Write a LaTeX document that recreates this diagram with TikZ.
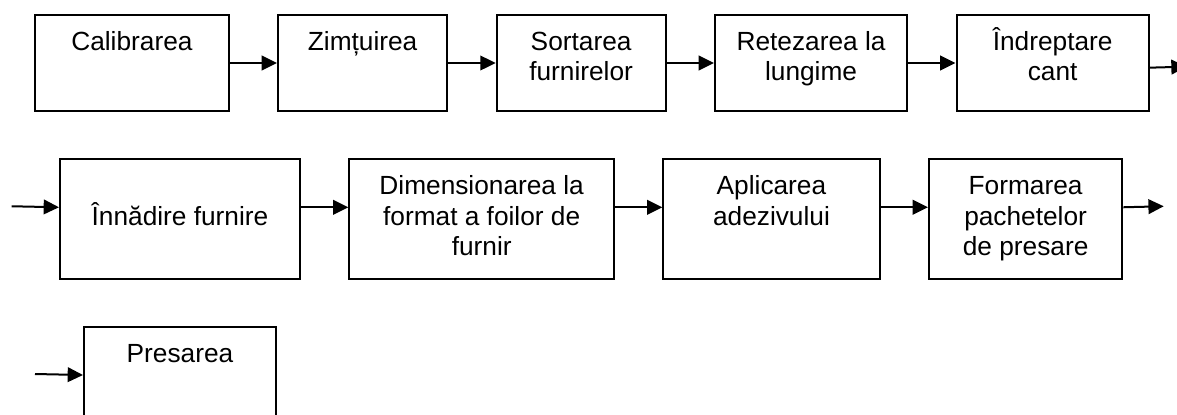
\documentclass[tikz,border=0pt]{standalone}
\usepackage{fontspec}
\setmainfont{Liberation Sans}
\usetikzlibrary{positioning,arrows.meta}
\newcommand{\firststrut}{\rule{0pt}{20pt}}

\begin{document}
\begin{tikzpicture}[
	node distance=35.5pt,
	box/.style={draw, line width=1.5pt, inner sep=0pt, minimum height=72pt},
	tallbox/.style={box, minimum height=90pt},
	boxtext/.style={anchor=north, yshift=-7pt, inner sep=0pt, align=center, font=\fontsize{19.7pt}{22.9pt}\selectfont},
	flow/.style={line width=1.5pt, -{Triangle[length=11.5pt,width=11pt]}},
	]
		\useasboundingbox (0,0) rectangle (882.75pt,-310.5pt);

		\node [box, minimum width=145pt, anchor=north west, label={[boxtext]north:{\firststrut Calibrarea}}] (b1) at (25.7pt,-10.5pt) {};
		\node [box, minimum width=127pt, right=of b1, label={[boxtext]north:{\firststrut Zimțuirea}}] (b2) {};
		\node [box, minimum width=126.75pt, right=of b2, label={[boxtext]north:{\firststrut Sortarea\\furnirelor}}] (b3) {};
		\node [box, minimum width=144.2pt, right=of b3, label={[boxtext]north:{\firststrut Retezarea la\\lungime}}] (b4) {};
		\node [box, minimum width=144.2pt, right=of b4, label={[boxtext]north:{\firststrut Îndreptare\\cant}}] (b5) {};
		\coordinate (out1) at (890pt,-50pt);

		\node [tallbox, minimum width=180pt, anchor=north west, label={[boxtext]north:{\firststrut\\Înnădire furnire}}] (b6) at (44.25pt,-118.7pt) {};
		\node [tallbox, minimum width=198.5pt, right=of b6, label={[boxtext]north:{\firststrut Dimensionarea la\\format a foilor de\\furnir}}] (b7) {};
		\node [tallbox, minimum width=162.2pt, right=of b7, label={[boxtext]north:{\firststrut Aplicarea\\adezivului}}] (b8) {};
		\node [tallbox, minimum width=145pt, right=of b8, label={[boxtext]north:{\firststrut Formarea\\pachetelor\\de presare}}] (b9) {};
		\coordinate (in2) at (8.8pt,-154.7pt);
		\coordinate (out2) at (872.8pt,-154.7pt);

		\node [tallbox, minimum width=144pt, anchor=north west, label={[boxtext]north:{\firststrut Presarea}}] (b10) at (62.25pt,-244.5pt) {};
		\coordinate (in3) at (26.25pt,-280.5pt);

		\draw [flow] (b1) -- (b2);
		\draw [flow] (b2) -- (b3);
		\draw [flow] (b3) -- (b4);
		\draw [flow] (b4) -- (b5);
		\draw [flow] ([yshift=-3.5pt]b5.east) -- (out1);

		\draw [flow] (in2) -- ([yshift=9pt]b6.west);
		\draw [flow] ([yshift=9pt]b6.east) -- ([yshift=9pt]b7.west);
		\draw [flow] ([yshift=9pt]b7.east) -- ([yshift=9pt]b8.west);
		\draw [flow] ([yshift=9pt]b8.east) -- ([yshift=9pt]b9.west);
		\draw [flow] ([yshift=9pt]b9.east) -- (out2);

		\draw [flow] (in3) -- ([yshift=9pt]b10.west);

\end{tikzpicture}
\end{document}
